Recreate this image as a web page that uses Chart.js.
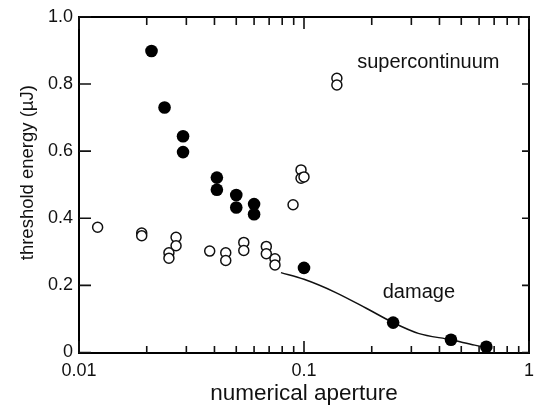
<!DOCTYPE html>
<html>
<head>
<meta charset="utf-8">
<title>Threshold energy vs numerical aperture</title>
<script src="https://cdn.jsdelivr.net/npm/chart.js@4.4.1/dist/chart.umd.min.js"></script>
<style>
  html, body { margin: 0; padding: 0; background: #fff; overflow: hidden; }
  canvas { display: block; }
</style>
</head>
<body>
<canvas id="chart" width="536" height="409"></canvas>
<script>
/* ---------------- DATA ---------------- */
// damage threshold (filled circles)
const damageNA = [0.021, 0.024, 0.029, 0.029, 0.041, 0.041, 0.050, 0.050, 0.060, 0.060, 0.100, 0.249, 0.450, 0.646];
const damageE  = [0.898, 0.730, 0.644, 0.597, 0.521, 0.485, 0.469, 0.432, 0.442, 0.412, 0.252, 0.089, 0.038, 0.017];

// supercontinuum threshold (open circles)
const scNA = [0.0121, 0.019, 0.019, 0.0251, 0.0251, 0.027, 0.027, 0.0381, 0.0449, 0.0449,
              0.054, 0.054, 0.068, 0.068, 0.0743, 0.0743, 0.0894, 0.097, 0.097, 0.100, 0.140, 0.140];
const scE  = [0.373, 0.356, 0.348, 0.297, 0.281, 0.343, 0.318, 0.302, 0.297, 0.274,
              0.328, 0.304, 0.316, 0.294, 0.279, 0.261, 0.440, 0.544, 0.519, 0.523, 0.817, 0.797];

// fitted curve through the damage points
const fitNA = [0.079, 0.100, 0.137, 0.190, 0.249, 0.322, 0.450, 0.574, 0.686];
const fitE  = [0.238, 0.218, 0.180, 0.131, 0.089, 0.057, 0.038, 0.022, 0.012];

// axes
const xMajor = [0.01, 0.1, 1];
const xTickLabels = ["0.01", "0.1", "1"];
const xMinor = [0.02, 0.03, 0.04, 0.05, 0.06, 0.07, 0.08, 0.09, 0.2, 0.3, 0.4, 0.5, 0.6, 0.7, 0.8, 0.9];
const yMajor = [0, 0.2, 0.4, 0.6, 0.8, 1.0];
const yTickLabels = ["0", "0.2", "0.4", "0.6", "0.8", "1.0"];

// text labels, anchored in data coordinates
const xTitle = "numerical aperture";
const yTitle = "threshold energy (\u00b5J)";
const notes = [
    { text: "supercontinuum", na: 0.357, e: 0.847 },
    { text: "damage",         na: 0.324, e: 0.161 }
];
/* -------------------------------------- */

const FONT = "'Liberation Sans', Arial, Helvetica, sans-serif";
const INK = "#111";

function toPoints(xs, ys) {
    return xs.map((x, i) => ({ x, y: ys[i] }));
}

/* ---------- frame, inward ticks, texts ---------- */
const framePlugin = {
    id: "boxFrame",
    afterDraw(chart) {
        const { ctx, chartArea: a, scales } = chart;
        const xs = scales.x, ys = scales.y;
        ctx.save();
        ctx.fillStyle = "#000";

        // frame: 2px bars on the chart-area edges
        const L = Math.round(a.left), R = Math.round(a.right);
        const T = Math.round(a.top), B = Math.round(a.bottom);
        ctx.fillRect(L - 1, T - 1, R - L + 2, 2);
        ctx.fillRect(L - 1, B - 1, R - L + 2, 2);
        ctx.fillRect(L - 1, T - 1, 2, B - T + 2);
        ctx.fillRect(R - 1, T - 1, 2, B - T + 2);

        // inward ticks
        ctx.strokeStyle = INK;
        ctx.lineWidth = 1.6;
        ctx.beginPath();
        xMajor.forEach(v => {
            const px = xs.getPixelForValue(v);
            ctx.moveTo(px, B); ctx.lineTo(px, B - 12);
            ctx.moveTo(px, T); ctx.lineTo(px, T + 12);
        });
        xMinor.forEach(v => {
            const px = xs.getPixelForValue(v);
            ctx.moveTo(px, B); ctx.lineTo(px, B - 7);
            ctx.moveTo(px, T); ctx.lineTo(px, T + 8);
        });
        yMajor.forEach(v => {
            const py = ys.getPixelForValue(v);
            ctx.moveTo(L, py); ctx.lineTo(L + 12, py);
            ctx.moveTo(R, py); ctx.lineTo(R - 7, py);
        });
        ctx.stroke();

        // annotations
        ctx.fillStyle = INK;
        ctx.font = "20px " + FONT;
        ctx.textAlign = "center";
        ctx.textBaseline = "alphabetic";
        notes.forEach(n => {
            ctx.fillText(n.text, xs.getPixelForValue(n.na), ys.getPixelForValue(n.e));
        });

        // axis titles
        ctx.font = "22.5px " + FONT;
        ctx.fillText(xTitle, (a.left + a.right) / 2, a.bottom + 47.5);

        ctx.font = "18.5px " + FONT;
        ctx.translate(33, (a.top + a.bottom) / 2 - 12);
        ctx.rotate(-Math.PI / 2);
        ctx.fillText(yTitle, 0, 0);
        ctx.restore();
    }
};

/* ---------- chart ---------- */
new Chart(document.getElementById("chart"), {
    type: "scatter",
    data: {
        datasets: [
            {
                label: "fit",
                data: toPoints(fitNA, fitE),
                showLine: true,
                borderColor: INK,
                borderWidth: 1.5,
                pointRadius: 0,
                cubicInterpolationMode: "monotone",
                order: 3
            },
            {
                label: "damage",
                data: toPoints(damageNA, damageE),
                backgroundColor: "#000",
                borderWidth: 0,
                pointRadius: 6.3,
                order: 2
            },
            {
                label: "supercontinuum",
                data: toPoints(scNA, scE),
                backgroundColor: "#fff",
                borderColor: INK,
                borderWidth: 1.5,
                pointRadius: 5,
                order: 1
            }
        ]
    },
    options: {
        responsive: false,
        animation: false,
        devicePixelRatio: 1,
        layout: { padding: { top: 15, right: 7, left: 0, bottom: 0 } },
        plugins: {
            legend: { display: false },
            tooltip: { enabled: false }
        },
        scales: {
            x: {
                type: "logarithmic",
                min: 0.01,
                max: 1,
                grid: { display: false, drawTicks: false },
                border: { display: false },
                afterBuildTicks: s => { s.ticks = xMajor.map(v => ({ value: v })); },
                afterFit: s => { s.height = 56.5; s.paddingLeft = 0; s.paddingRight = 0; },
                ticks: {
                    autoSkip: false,
                    maxRotation: 0,
                    padding: 8,
                    color: INK,
                    font: { family: FONT, size: 18 },
                    callback: v => xTickLabels[xMajor.indexOf(v)] ?? ""
                }
            },
            y: {
                min: 0,
                max: 1,
                grid: { display: false, drawTicks: false },
                border: { display: false },
                afterBuildTicks: s => { s.ticks = yMajor.map(v => ({ value: v })); },
                afterFit: s => { s.width = 79; },
                ticks: {
                    padding: 6,
                    color: INK,
                    font: { family: FONT, size: 18 },
                    callback: (v, i) => yTickLabels[i]
                }
            }
        }
    },
    plugins: [framePlugin]
});
</script>
</body>
</html>
